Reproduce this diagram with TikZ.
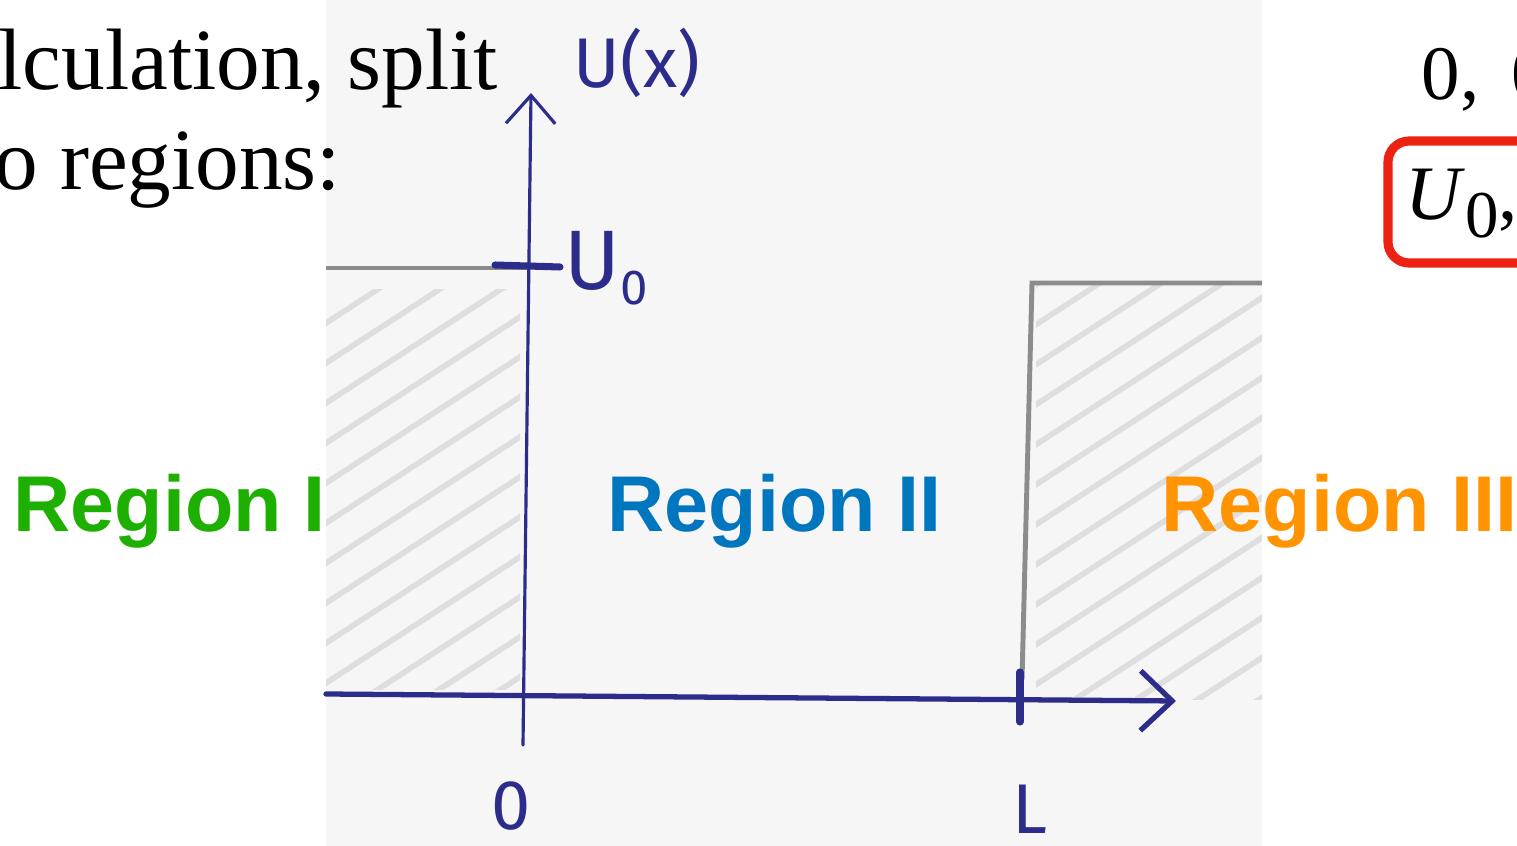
\documentclass[tikz,border=0pt]{standalone}
\usepackage{fontspec}
\setmainfont{Liberation Serif}
\newfontfamily\labelfont{Liberation Sans}
\newfontfamily\handfont{Fira Sans}
\usetikzlibrary{positioning, arrows.meta}
\definecolor{penblue}{RGB}{44,44,138}
\definecolor{pencilgray}{RGB}{140,140,140}
\definecolor{hatchgray}{RGB}{222,222,222}
\definecolor{paper}{RGB}{246,246,247}
\definecolor{regiongreen}{RGB}{30,176,0}
\definecolor{regionblue}{RGB}{0,118,190}
\definecolor{regionorange}{RGB}{255,148,0}
\definecolor{boxred}{RGB}{236,34,18}

\begin{document}
\begin{tikzpicture}[x=0.01cm, y=-0.01cm,
  slide/.style={anchor=base west, inner sep=0pt, font=\fontsize{24.8pt}{28pt}\selectfont},
  region/.style={anchor=base west, inner sep=0pt, font=\labelfont\bfseries\fontsize{22.5pt}{26pt}\selectfont},
  hand/.style={inner sep=0pt, text=penblue, font=\handfont\fontsize{20pt}{24pt}\selectfont},
  pen/.style={draw=penblue, line cap=round},
  pencil/.style={draw=pencilgray, line width=1.4pt},
  hatch/.style={draw=hatchgray, line width=1.6pt, line cap=round}]
  \useasboundingbox (0,0) rectangle (1517,846);
  \clip (0,0) rectangle (1517,846);
  \fill[white] (0,0) rectangle (1517,846);

  % scanned sketch
  \fill[paper] (326,0) rectangle (1262,846);
  \begin{scope}
    \clip (326,290) rectangle (520,690);
    \foreach \k in {0,...,13}
      \draw[hatch] (300,300+\k*40) -- (560,300+\k*40-169);
  \end{scope}
  \begin{scope}
    \clip (1036,286) rectangle (1262,700);
    \foreach \k in {0,...,14}
      \draw[hatch] (1000,308+\k*40) -- (1300,308+\k*40-195);
  \end{scope}

  % potential
  \draw[pencil] (326,268) -- (530,268);
  \draw[pencil] (1022,680) -- (1032,283) -- (1262,283);

  % axes
  \coordinate (yfoot) at (523,745);
  \coordinate (ytip) at (531,93);
  \coordinate (xstart) at (326,694);
  \coordinate (xtip) at (1176,701);
  \draw[pen, line width=0.9pt, -{Straight Barb[length=8pt, width=14pt]}] (yfoot) -- (ytip);
  \draw[pen, line width=1.5pt, -{Straight Barb[length=9pt, width=17pt]}] (xstart) -- (xtip);
  \draw[pen, line width=2pt] (495,265) -- (560,267);
  \draw[pen, line width=2pt] (1020,672) -- (1020,722);

  \node[hand, anchor=base west] (ulabel) at (573,88) {U(x)};
  \node[hand, anchor=base west, font=\handfont\fontsize{24pt}{26pt}\selectfont] (uzero) at (564,290)
    {U\raisebox{-4pt}{\fontsize{14pt}{14pt}\selectfont 0}};
  \node[hand, anchor=base] (origin) at (511,830) {0};
  \node[hand, anchor=base] (lend) at (1030,834) {L};

  % slide text
  \node[slide] (line1) at (-2,90) {lculation, split};
  \node[slide] (line2) at (-6,190) {o regions:};
  \node[slide, font=\fontsize{21.9pt}{24pt}\selectfont] (cases) at (1421,100) {0,\hspace{0.42em}0};
  \draw[boxred, line width=2.6pt, rounded corners=6pt] (1388,141) rectangle (1580,263);
  \node[slide, font=\fontsize{21.9pt}{24pt}\selectfont] (ucase) at (1405,220)
    {\textit{U}\raisebox{-5pt}{\fontsize{19pt}{19pt}\selectfont 0},};

  \node[region, text=regiongreen] (regI) at (13,532) {Region I};
  \node[region, text=regionblue] (regII) at (607,532) {Region II};
  \node[region, text=regionorange] (regIII) at (1161,532) {Region III};
\end{tikzpicture}
\end{document}
